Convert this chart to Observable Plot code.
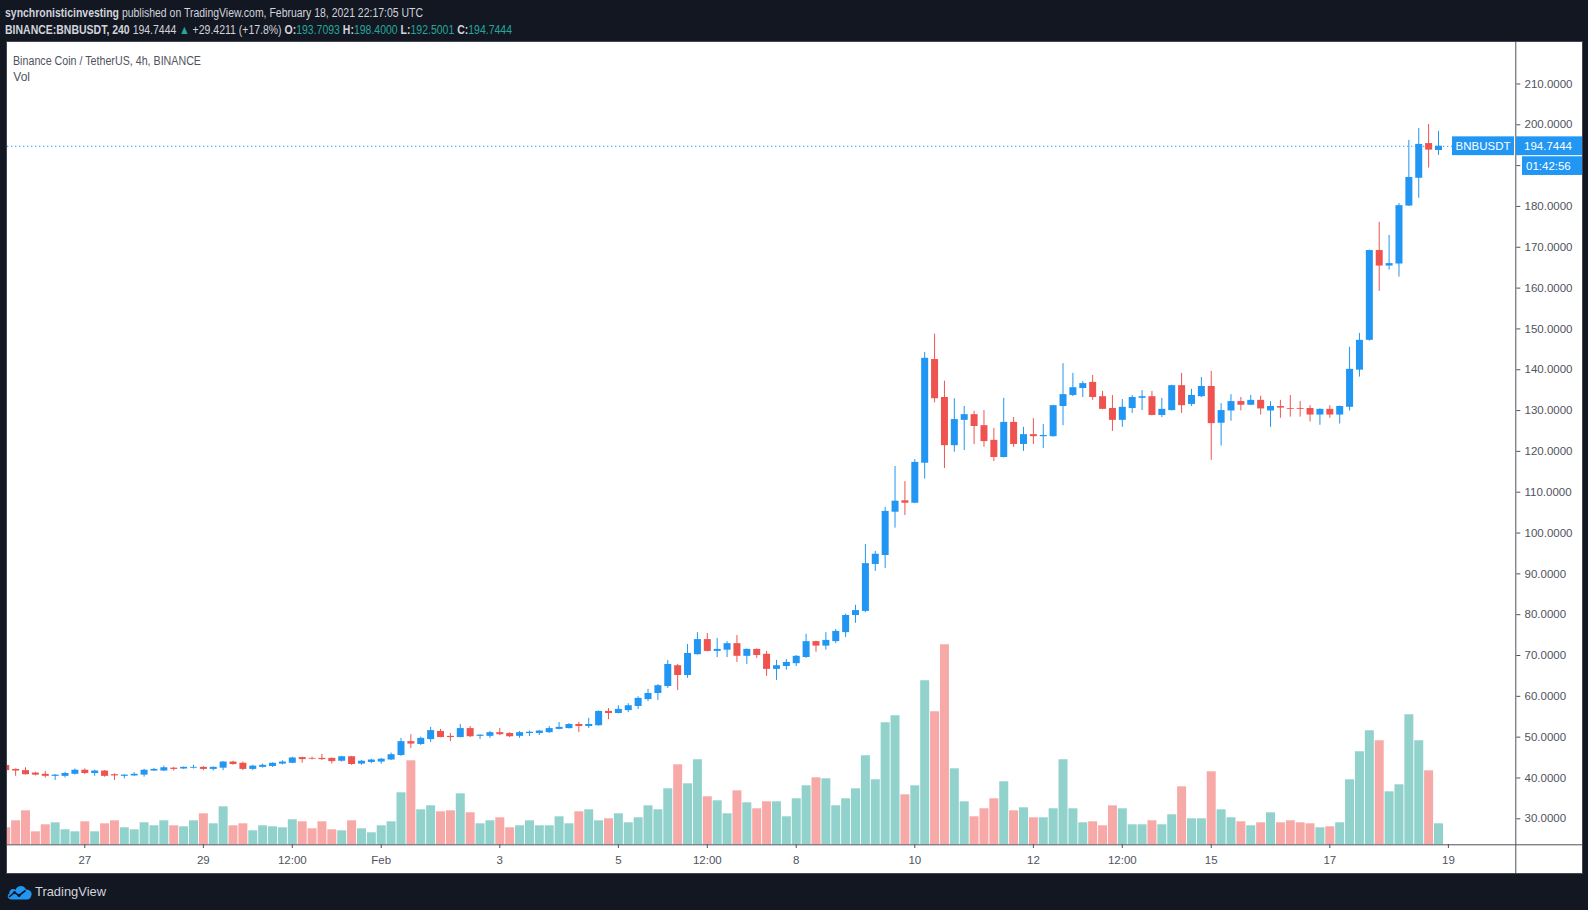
<!DOCTYPE html>
<html>
<head>
<meta charset="utf-8">
<script src="https://cdn.jsdelivr.net/npm/d3@7"></script>
<script src="https://cdn.jsdelivr.net/npm/@observablehq/plot@0.6"></script>
<style>
html,body{margin:0;padding:0;background:#131722;}
body{width:1588px;height:910px;overflow:hidden;position:relative;font-family:"Liberation Sans",Arial,sans-serif;}
.hdr{position:absolute;left:5px;white-space:nowrap;color:#d1d4dc;font-size:12.5px;line-height:15px;transform-origin:0 50%;}
#h1{top:6px;}
#h2{top:22.5px;}
.teal{color:#26a69a;}
#chart{position:absolute;left:6px;top:41px;width:1575px;height:831px;background:#fff;overflow:hidden;border:1px solid #434651;}
#chart svg{position:absolute;left:0;top:0;}
.legend{position:absolute;left:6.3px;white-space:nowrap;color:#50535e;font-size:12px;line-height:15px;transform-origin:0 50%;}
#lg1{top:11.5px;}
#lg2{top:28.2px;}
#footer{position:absolute;left:6px;top:882px;height:18px;display:flex;align-items:center;}
#ftext{color:#d1d4dc;font-size:13.5px;margin-left:2px;white-space:nowrap;transform-origin:0 50%;}
</style>
</head>
<body>
<div id="h1" class="hdr"><b>synchronisticinvesting</b> published on TradingView.com, February 18, 2021 22:17:05 UTC</div>
<div id="h2" class="hdr"><b>BINANCE:BNBUSDT, 240</b> 194.7444 <span class="teal">▲</span> +29.4211 (+17.8%) <b>O:</b><span class="teal">193.7093</span> <b>H:</b><span class="teal">198.4000</span> <b>L:</b><span class="teal">192.5001</span> <b>C:</b><span class="teal">194.7444</span></div>
<div id="chart">
  <div id="lg1" class="legend">Binance Coin / TetherUS, 4h, BINANCE</div>
  <div id="lg2" class="legend">Vol</div>
</div>
<div id="footer">
  <svg width="27" height="17" viewBox="0 0 27 17">
    <path d="M5.5 16.5 C1.5 16.5 0.5 12 3.5 10.5 C3 6.5 7.5 5 9.5 7 C11 2 18 1.5 20 6.5 C24 6 27 10 25 13.5 C24.5 15.5 23 16.5 21 16.5 Z" fill="#2196f3"/>
    <polyline points="3,14 8.5,9.5 13,12.5 19.5,7.5" stroke="#131722" stroke-width="1.6" fill="none"/>
    <circle cx="8.5" cy="9.5" r="1.6" fill="#131722"/>
    <circle cx="13" cy="12.5" r="1.6" fill="#131722"/>
  </svg>
  <span id="ftext">TradingView</span>
</div>
<script>
// ---- data (4h candles, BINANCE:BNBUSDT), first candle 2021-01-25 16:00 UTC ----
const firstCandle = "2021-01-25T16:00:00Z";
const opens = [43.05,42.1,41.8,41.2,40.9,40.4,40.4,40.9,41.9,41.1,
  41.7,40.8,40.4,40.5,40.7,41.7,41.7,42.4,42.2,42.4,
  42.6,42.1,42.4,43.9,43.6,42.1,42.6,42.8,43.4,43.6,
  45.0,44.8,44.8,44.8,44.1,45.2,43.4,43.8,43.9,44.4,
  45.5,48.9,48.2,49.4,51.4,50.2,49.9,52.1,50.2,50.2,
  51.1,50.9,50.2,50.9,50.9,51.1,51.9,52.1,53.1,52.6,
  52.8,56.3,55.8,56.5,57.5,59.2,60.7,62.4,67.5,65.1,
  70.2,73.9,71.0,71.3,72.9,69.8,71.5,70.3,66.6,67.3,
  68.0,69.5,73.4,72.3,73.4,75.6,79.8,80.8,92.3,94.5,
  105.1,107.9,107.3,117.1,142.5,133.2,121.4,127.6,129.0,126.3,
  122.7,118.5,127.1,121.7,124.1,123.6,123.6,131.0,133.7,135.4,
  136.9,133.4,130.5,127.6,130.5,133.0,133.4,128.8,130.0,136.1,
  131.5,133.4,135.9,126.9,129.9,132.2,131.3,132.5,129.9,131.0,
  130.5,130.5,130.5,128.9,130.3,128.9,130.8,139.9,147.2,169.2,
  165.4,165.9,180.1,186.9,195.4,193.7093];
const highs = [43.3,42.2,42.5,41.4,41.6,40.8,41.4,42.2,42.2,41.9,
  41.8,41.0,40.8,41.3,42.1,42.3,42.9,42.6,42.7,43.1,
  42.8,42.7,44.0,44.1,43.9,43.1,43.4,43.7,44.2,45.1,
  45.1,45.1,45.8,44.9,45.3,45.3,44.3,44.6,44.8,46.1,
  49.7,50.6,50.0,52.4,51.9,50.9,53.1,52.6,50.55,51.4,
  52.1,51.1,51.4,51.5,51.6,52.6,53.6,53.3,53.6,54.6,
  56.4,57.0,57.7,58.2,59.9,61.7,62.9,68.8,67.8,72.7,
  75.6,75.4,74.2,73.4,74.9,71.6,71.6,71.0,68.8,69.0,
  70.0,75.2,73.5,75.6,76.4,80.1,82.3,97.2,95.5,106.3,
  116.3,112.6,118.0,144.2,148.7,137.2,132.9,131.0,129.8,130.0,
  125.6,133.0,128.3,125.9,128.0,126.6,131.3,141.5,139.1,137.1,
  138.6,134.7,133.7,132.7,133.7,134.9,134.7,133.0,136.2,139.1,
  135.2,138.1,139.6,131.7,133.9,133.2,133.7,133.5,132.2,132.5,
  133.7,132.2,131.2,130.4,131.2,131.1,145.5,148.9,169.3,176.1,
  172.9,180.7,196.2,199.1,200.1,198.4];
const lows = [41.6,40.4,40.7,40.5,40.0,39.4,40.0,40.7,40.8,40.4,
  40.2,39.4,39.8,40.4,40.2,41.6,41.6,41.7,42.1,42.2,
  41.8,41.7,41.8,43.1,41.8,41.8,42.4,42.6,43.2,43.5,
  43.6,44.4,44.3,43.4,43.9,43.1,43.1,43.5,43.4,44.3,
  45.3,47.2,47.95,48.7,49.85,48.9,49.85,49.9,49.4,49.7,
  50.4,49.9,49.7,50.15,50.4,50.9,51.8,52.0,51.1,52.1,
  52.7,54.3,55.7,56.0,56.8,58.7,59.0,61.9,61.4,64.4,
  70.1,70.9,69.5,69.5,68.3,67.8,69.3,64.9,63.9,66.4,
  67.3,69.3,70.8,71.3,72.9,74.4,77.9,80.5,90.6,91.3,
  101.2,104.3,107.2,113.2,131.9,115.8,119.8,120.2,121.7,121.0,
  117.5,118.4,121.0,120.0,121.7,120.7,123.5,126.3,133.4,133.2,
  132.5,130.2,124.9,125.9,129.3,130.0,128.7,128.3,129.9,129.3,
  131.0,133.2,117.8,121.3,127.4,129.9,131.2,128.9,125.9,128.1,
  128.4,128.4,127.2,126.4,128.1,126.7,129.9,138.2,147.0,159.2,
  164.4,162.7,180.0,182.0,189.4,192.5001];
const closes = [41.8,41.7,40.8,40.7,40.4,40.7,41.1,41.9,41.1,41.7,
  40.4,40.5,40.7,40.9,41.9,42.1,42.5,42.1,42.6,42.6,
  42.1,42.6,43.9,43.3,42.1,42.9,43.1,43.6,43.9,44.9,
  44.5,44.6,44.5,44.0,45.2,43.3,44.1,44.4,44.6,45.7,
  48.9,48.3,49.7,51.6,49.9,49.9,52.1,50.1,50.5,51.1,
  50.6,50.1,51.1,51.2,51.5,52.1,52.4,53.1,52.6,53.1,
  56.3,55.8,56.8,57.7,59.5,60.7,62.6,67.8,65.1,70.5,
  73.9,71.0,71.5,72.9,69.8,71.5,70.0,66.6,67.5,68.3,
  69.8,73.4,72.3,73.7,75.9,79.8,81.0,92.5,94.8,105.3,
  107.8,107.3,117.3,142.8,132.9,121.4,127.8,129.0,126.1,122.4,
  118.5,127.1,121.7,124.1,123.6,123.9,131.2,133.9,135.6,136.6,
  133.2,130.3,127.6,130.8,133.2,133.4,128.8,130.3,136.1,131.2,
  133.7,135.9,126.8,130.0,132.2,131.3,132.5,130.4,131.0,130.6,
  130.3,130.3,128.9,130.3,128.9,131.0,140.1,147.2,169.2,165.4,
  166.0,180.2,187.1,195.2,193.8,194.7444];
const volumes = [17,24,34,13,20,22,15,13,23,13,
  21,24,17,15,22,19,24,19,18,24,
  31,21,38,19,21,14,19,18,17,25,
  23,16,23,15,14,24,16,12,19,23,
  52,84,35,39,33,34,51,32,21,24,
  27,17,19,24,19,19,28,21,33,35,
  24,26,31,22,27,39,35,56,80,61,
  85,48,44,31,54,42,36,43,43,28,
  46,59,67,66,39,46,56,89,65,122,
  129,50,59,164,133,200,76,43,28,36,
  46,63,34,37,27,27,36,85,36,22,
  23,19,39,36,20,20,24,20,30,58,
  26,26,73,35,27,23,19,22,32,22,
  24,22,21,17,18,22,65,93,114,104,
  53,60,130,104,74,21];
const priceTicks = [30,40,50,60,70,80,90,100,110,120,130,140,150,160,170,180,190,200,210];
const timeTickDates = ["2021-01-27T00:00Z","2021-01-29T00:00Z","2021-01-30T12:00Z","2021-02-01T00:00Z","2021-02-03T00:00Z","2021-02-05T00:00Z","2021-02-06T12:00Z","2021-02-08T00:00Z","2021-02-10T00:00Z","2021-02-12T00:00Z","2021-02-13T12:00Z","2021-02-15T00:00Z","2021-02-17T00:00Z","2021-02-19T00:00Z"];
const timeTickLabels = ["27","29","12:00","Feb","3","5","12:00","8","10","12","12:00","15","17","19"];
const symbolName = "BNBUSDT";
const countdown = "01:42:56";

// ---- build table ----
const H4 = 4 * 3600e3;
const t0 = new Date(firstCandle).getTime();
const candles = opens.map((o, i) => ({
  date: new Date(t0 + i * H4), open: o, high: highs[i], low: lows[i], close: closes[i], volume: volumes[i],
  dir: closes[i] >= o ? "up" : "down"
}));
const last = candles[candles.length - 1];
const tickDates = timeTickDates.map(s => new Date(s));
const tickLabel = new Map(tickDates.map((d, i) => [+d, timeTickLabels[i]]));

const W = 1575, Hh = 831;
const xDomain = [new Date("2021-01-25T16:42:36Z"), new Date("2021-02-20T03:17:30Z")];
const xRange = [0, 1508.3];
const font = "'Liberation Sans', Arial, sans-serif";
const axisColor = "#50535e";
const UP = "#2196f3", DOWN = "#ef5350";

// ---- volume pane (behind) ----
const volPlot = Plot.plot({
  width: W, height: Hh,
  marginLeft: 0, marginRight: 0, marginTop: 0, marginBottom: 29,
  style: {background: "transparent", fontFamily: font, fontSize: "11.5px", color: axisColor, overflow: "visible"},
  x: {type: "utc", domain: xDomain, range: xRange, ticks: tickDates, tickFormat: d => tickLabel.get(+d) ?? "", tickSize: 4, tickPadding: 7, label: null},
  y: {domain: [0, 200], range: [802.3, 602.3], axis: null},
  color: {domain: ["up", "down"], range: ["#92d2cc", "#f7a9a7"]},
  marks: [
    Plot.ruleX(candles, {x: "date", y1: 0, y2: "volume", stroke: "dir", strokeWidth: 9}),
    Plot.ruleY([0], {stroke: axisColor, strokeWidth: 1})
  ]
});

// ---- price pane (front) ----
function lastPriceLabels(index, scales, values, dims) {
  const y = scales.y(last.close);
  const xr = dims.width - dims.marginRight;
  const g = d3.create("svg:g").attr("font-family", font).attr("font-size", "11.5px").attr("text-anchor", "start");
  g.append("rect").attr("x", xr - 63.3).attr("y", y - 9.4).attr("width", 62).attr("height", 18.8).attr("fill", UP);
  g.append("text").attr("x", xr - 32.3).attr("y", y).attr("dy", "0.36em").attr("text-anchor", "middle").attr("fill", "#fff").text(symbolName);
  g.append("rect").attr("x", xr + 0.7).attr("y", y - 9.4).attr("width", 66.3).attr("height", 18.8).attr("fill", UP);
  g.append("text").attr("x", xr + 8.7).attr("y", y).attr("dy", "0.36em").attr("text-anchor", "start").attr("fill", "#fff").text(last.close.toFixed(4));
  g.append("rect").attr("x", xr + 6.7).attr("y", y + 10.5).attr("width", 60.3).attr("height", 18.7).attr("fill", UP);
  g.append("text").attr("x", xr + 10.7).attr("y", y + 19.9).attr("dy", "0.36em").attr("text-anchor", "start").attr("fill", "#fff").text(countdown);
  return g.node();
}

const pricePlot = Plot.plot({
  width: W, height: Hh,
  marginLeft: 0, marginRight: 66.7, marginTop: 0, marginBottom: 0,
  style: {background: "transparent", fontFamily: font, fontSize: "11.5px", color: axisColor, overflow: "visible"},
  x: {type: "utc", domain: xDomain, range: xRange, axis: null},
  y: {domain: [30, 200], range: [776.3, 82.3], axis: "right", ticks: priceTicks, tickFormat: d => d.toFixed(4), tickSize: 4, tickPadding: 4.7, label: null},
  color: {domain: ["up", "down"], range: [UP, DOWN]},
  marks: [
    Plot.ruleY([last.close], {stroke: UP, strokeWidth: 1, strokeDasharray: "1.3,2.7"}),
    Plot.ruleX(candles, {x: "date", y1: "low", y2: "high", stroke: "dir", strokeWidth: 1}),
    Plot.ruleX(candles, {x: "date", y1: "open", y2: "close", stroke: "dir", strokeWidth: 7}),
    Plot.ruleX([xDomain[1]], {stroke: axisColor, strokeWidth: 1}),
    lastPriceLabels
  ]
});

const chart = document.getElementById("chart");
chart.insertBefore(volPlot, chart.firstChild);
chart.insertBefore(pricePlot, volPlot.nextSibling);

// ---- fit narrow header texts to the reference widths ----
function fit(id, w) {
  const el = document.getElementById(id);
  el.style.transform = "none";
  const r = el.getBoundingClientRect().width;
  if (r > 0) el.style.transform = `scaleX(${w / r})`;
}
function fitAll() {
  fit("h1", 418); fit("h2", 507); fit("lg1", 188); fit("ftext", 71);
}
fitAll();
if (document.fonts && document.fonts.ready) document.fonts.ready.then(fitAll);
</script>
</body>
</html>
